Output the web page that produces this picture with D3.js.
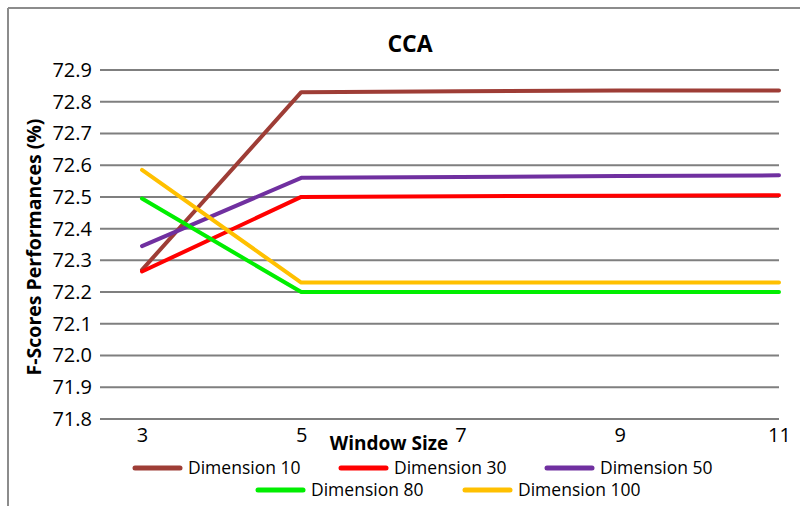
<!DOCTYPE html>
<html>
<head>
<meta charset="utf-8">
<script src="https://cdn.jsdelivr.net/npm/d3@7"></script>
<style>
  html, body { margin: 0; padding: 0; background: #fff; }
  svg { display: block; font-family: "Open Sans", sans-serif; }
</style>
</head>
<body>
<svg id="chart" width="800" height="506"></svg>
<script>
// Window sizes on the x axis
const windowSizes = ["3", "5", "7", "9", "11"];
// F-score (%) per embedding dimension, one value per window size
const dim10  = [72.27, 72.83, 72.833, 72.835, 72.835];
const dim30  = [72.265, 72.50, 72.502, 72.504, 72.505];
const dim50  = [72.345, 72.56, 72.563, 72.566, 72.568];
const dim80  = [72.495, 72.20, 72.20, 72.20, 72.20];
const dim100 = [72.585, 72.23, 72.23, 72.23, 72.23];
const seriesNames = ["Dimension 10", "Dimension 30", "Dimension 50", "Dimension 80", "Dimension 100"];
const seriesColors = ["#9e3d36", "#ff0000", "#7030a0", "#00ee00", "#ffc000"];
const yTicks = [71.8, 71.9, 72.0, 72.1, 72.2, 72.3, 72.4, 72.5, 72.6, 72.7, 72.8, 72.9];

const series = [dim10, dim30, dim50, dim80, dim100].map((vals, i) => ({
  name: seriesNames[i], color: seriesColors[i],
  points: vals.map((v, j) => ({ x: windowSizes[j], y: v }))
}));

const svg = d3.select("#chart");

// outer frame (top and left edges)
svg.append("line").attr("x1", 8).attr("y1", 8).attr("x2", 800).attr("y2", 8)
  .attr("stroke", "#8c8c8c").attr("stroke-width", 2);
svg.append("line").attr("x1", 8).attr("y1", 8).attr("x2", 8).attr("y2", 506)
  .attr("stroke", "#8c8c8c").attr("stroke-width", 2);

const x = d3.scalePoint().domain(windowSizes).range([142, 779]);
const y = d3.scaleLinear().domain([71.8, 72.9]).range([419, 70]);

// horizontal gridlines
svg.append("g").selectAll("line").data(yTicks).join("line")
  .attr("x1", 100).attr("x2", 779)
  .attr("y1", d => y(d)).attr("y2", d => y(d))
  .attr("stroke", "#7f7f7f").attr("stroke-width", 2);

// y axis tick labels
const yAxis = d3.axisLeft(y).tickValues(yTicks).tickFormat(d3.format(".1f")).tickSize(0).tickPadding(0);
const gy = svg.append("g").attr("transform", "translate(92,0)").call(yAxis);
gy.select(".domain").remove();
gy.selectAll("text").attr("font-size", 20).attr("fill", "#000")
  .attr("font-family", "Open Sans, sans-serif");

// x axis tick labels
const xAxis = d3.axisBottom(x).tickSize(0).tickPadding(0);
const gx = svg.append("g").attr("transform", "translate(0,428)").call(xAxis);
gx.select(".domain").remove();
gx.selectAll("text").attr("font-size", 20).attr("fill", "#000")
  .attr("font-family", "Open Sans, sans-serif");

// series lines
const line = d3.line().x(d => x(d.x)).y(d => y(d.y));
svg.append("g").selectAll("path").data(series).join("path")
  .attr("d", d => line(d.points))
  .attr("fill", "none")
  .attr("stroke", d => d.color)
  .attr("stroke-width", 4)
  .attr("stroke-linecap", "round")
  .attr("stroke-linejoin", "round");

// title
svg.append("text").attr("x", 410).attr("y", 52).attr("text-anchor", "middle")
  .attr("font-size", 23).attr("font-weight", "bold").text("CCA");

// axis titles
svg.append("text").attr("x", 389).attr("y", 450).attr("text-anchor", "middle")
  .attr("font-size", 19).attr("font-weight", "bold").text("Window Size");
svg.append("text").attr("transform", "translate(41,247) rotate(-90)")
  .attr("text-anchor", "middle").attr("font-size", 19.5).attr("font-weight", "bold")
  .text("F-Scores Performances (%)");

// legend
const legendPos = [[135, 468], [341, 468], [547, 468], [258, 490], [465, 490]];
const lg = svg.append("g").selectAll("g").data(series).join("g")
  .attr("transform", (d, i) => `translate(${legendPos[i][0]},${legendPos[i][1]})`);
lg.append("line").attr("x1", 0).attr("x2", 45).attr("y1", 0).attr("y2", 0)
  .attr("stroke", d => d.color).attr("stroke-width", 5).attr("stroke-linecap", "round");
lg.append("text").attr("x", 53).attr("y", 0).attr("dy", "0.35em")
  .attr("font-size", 17.5).text(d => d.name);
</script>
</body>
</html>
